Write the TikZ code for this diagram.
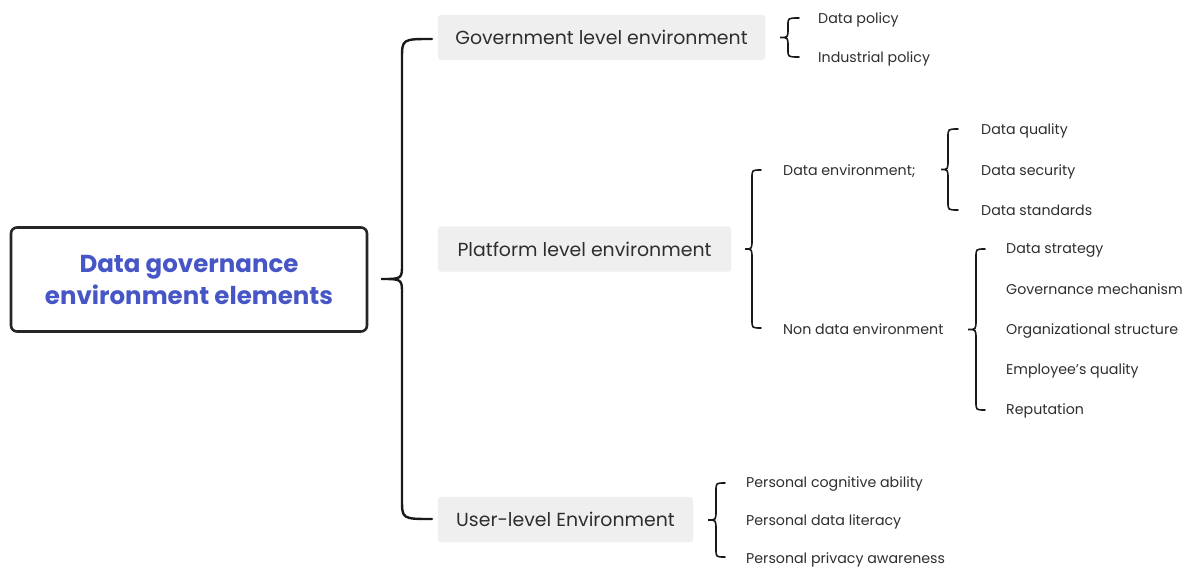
\documentclass[tikz,border=0pt]{standalone}
\usepackage{fontspec}
\setmainfont{Poppins}
\definecolor{mainblue}{HTML}{4656C6}
\definecolor{boxgray}{HTML}{EFEFEF}
\definecolor{txt}{HTML}{2E2E2E}
\tikzset{
  mainbox/.style={draw=black!85, line width=2.6pt, rounded corners=6pt, minimum width=356pt, minimum height=104pt, align=center, text=mainblue, font=\fontsize{24.5}{32}\selectfont\bfseries},
  levelbox/.style={fill=boxgray, draw=black!5, rounded corners=3pt, minimum height=45pt, text=txt, font=\fontsize{18.9}{22}\selectfont, inner xsep=0pt},
  item/.style={anchor=west, inner sep=0pt, yshift=-2.5pt, text=txt, font=\fontsize{14.2}{16}\selectfont, text height=1.5ex, text depth=0.45ex},
  bigbrace/.style={line width=2.4pt, black!90, line cap=round},
  smallbrace/.style={line width=1.6pt, black!90, line cap=round}
}
% #1 name, #2 end x, #3 stem x, #4 tip x, #5 top y, #6 bottom y, #7 hook size, #8 cusp size, #9 style
\newcommand{\curlybrace}[9]{%
  \pgfmathsetmacro{\bym}{(#5+#6)/2}%
  \coordinate (#1t) at (#2,#5);
  \coordinate (#1b) at (#2,#6);
  \coordinate (#1m) at (#4,\bym);
  \draw[#9] (#1t) .. controls (#3,#5) .. (#3,{#5+#7}) -- (#3,{\bym-#8})
    .. controls (#3,\bym) .. (#1m) .. controls (#3,\bym) .. (#3,{\bym+#8})
    -- (#3,{#6-#7}) .. controls (#3,#6) .. (#1b);
}
\begin{document}
\begin{tikzpicture}[x=1pt,y=-1pt]
\useasboundingbox (0,0) rectangle (1188,567);
% main node
\node[mainbox] (main) at (189,279.5) {Data governance\\environment elements};
% level boxes
\node[levelbox, minimum width=327pt] (gov) at (601.5,37.5) {Government level environment};
\node[levelbox, minimum width=293pt] (plat) at (584.5,249) {Platform level environment};
\node[levelbox, minimum width=255pt] (user) at (565.5,519.5) {User-level Environment};
% items
\node[item] (dpol) at (818,18) {Data policy};
\node[item] (ipol) at (818,57) {Industrial policy};
\node[item] (denv) at (783,170) {Data environment;};
\node[item] (nenv) at (783,329) {Non data environment};
\node[item] (dq) at (981,129) {Data quality};
\node[item] (ds) at (981,170) {Data security};
\node[item] (dst) at (981,210) {Data standards};
\node[item] (dstr) at (1006,248) {Data strategy};
\node[item] (gm) at (1006,289) {Governance mechanism};
\node[item] (os) at (1006,329) {Organizational structure};
\node[item] (eq) at (1006,369) {Employee's quality};
\node[item] (rep) at (1006,409) {Reputation};
\node[item] (pca) at (746,482) {Personal cognitive ability};
\node[item] (pdl) at (746,520) {Personal data literacy};
\node[item] (ppa) at (746,558) {Personal privacy awareness};
% braces
\curlybrace{b0}{432}{402}{381}{39}{519}{20}{15}{bigbrace}
\curlybrace{b1}{799}{788}{780}{18}{57}{7}{9}{smallbrace}
\curlybrace{b2}{761}{752}{745}{170}{328}{8}{10}{smallbrace}
\curlybrace{b3}{958}{948}{941}{129}{210}{8}{10}{smallbrace}
\curlybrace{b4}{985}{976}{968}{249}{410}{8}{10}{smallbrace}
\curlybrace{b5}{725}{716}{708}{483}{557}{8}{10}{smallbrace}
\end{tikzpicture}
\end{document}
